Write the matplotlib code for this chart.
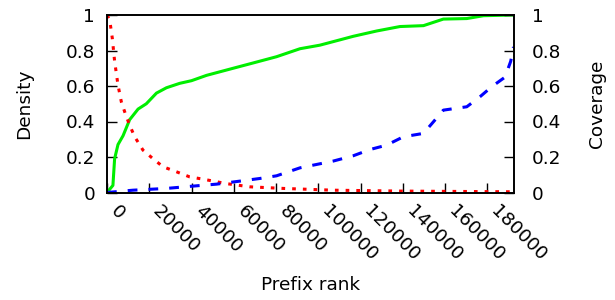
import matplotlib
matplotlib.use("Agg")
import matplotlib.pyplot as plt

# green solid curve (coverage, cumulative)
green_x = [0, 2800, 3600, 5200, 7600, 10700, 14700, 18600, 23400, 28100, 34400, 40000,
           47100, 59700, 69200, 80200, 91300, 100700, 110200, 116500, 127600, 138600,
           149700, 159100, 170200, 178100, 192300]
green_y = [0.0, 0.04, 0.19, 0.27, 0.32, 0.41, 0.47, 0.50, 0.56, 0.59, 0.615, 0.63,
           0.66, 0.70, 0.73, 0.765, 0.81, 0.83, 0.86, 0.88, 0.91, 0.935,
           0.94, 0.977, 0.98, 0.996, 1.0]

# red dotted curve (density)
red_x = [0, 1300, 2500, 3600, 5200, 6800, 8900, 10700, 13100, 17000, 21800, 26500,
         32800, 39100, 45500, 56500, 67600, 83300, 107000, 138600, 192300]
red_y = [1.0, 0.97, 0.87, 0.74, 0.605, 0.51, 0.436, 0.38, 0.314, 0.239, 0.19, 0.145,
         0.117, 0.088, 0.075, 0.05, 0.032, 0.023, 0.013, 0.008, 0.004]

# blue dashed curve
blue_x = [0, 12300, 28100, 40700, 51800, 62800, 72300, 80200, 91300, 107000, 116500,
          124400, 132300, 140200, 149700, 154400, 159100, 170200, 176500, 182000,
          188300, 191000, 192300]
blue_y = [0.0, 0.013, 0.023, 0.036, 0.047, 0.064, 0.079, 0.094, 0.139, 0.177, 0.207,
          0.242, 0.267, 0.314, 0.333, 0.398, 0.464, 0.483, 0.54, 0.596,
          0.65, 0.74, 0.82]

x_ticks = list(range(0, 180001, 20000))
y_ticks = [0, 0.2, 0.4, 0.6, 0.8, 1]
y_labels = ["0", "0.2", "0.4", "0.6", "0.8", "1"]

FS = 13.3

fig = plt.figure(figsize=(6.15, 3.0), dpi=100)
ax = fig.add_axes([107 / 615, 1 - 192.5 / 300, (513.5 - 107) / 615, (192.5 - 15) / 300])

ax.plot(green_x, green_y, color="#00ee00", lw=2.2)
ax.plot(red_x, red_y, color="#ff0000", lw=2.2, linestyle=(0, (1.2, 2.3)))
ax.plot(blue_x, blue_y, color="#0000ff", lw=2.2, linestyle=(0, (3.2, 3.6)))

ax.set_xlim(0, 192300)
ax.set_ylim(0, 1)
ax.set_xticks(x_ticks)
ax.set_xticklabels([str(t) for t in x_ticks], rotation=-45, ha="left", va="bottom",
                   rotation_mode="anchor", fontsize=FS)
ax.set_yticks(y_ticks)
ax.set_yticklabels(y_labels, fontsize=FS)
ax.tick_params(axis="y", direction="in", length=7, width=1, right=False, pad=8.6)
ax.tick_params(axis="x", direction="in", length=7, width=1, top=False, pad=16)
ax.set_xlabel("Prefix rank", fontsize=FS)
ax.xaxis.set_label_coords(0.5, -0.47)
ax.set_ylabel("Density", fontsize=FS)
ax.yaxis.set_label_coords(-0.182, 0.5)

ax2 = ax.twinx()
ax2.set_ylim(0, 1)
ax2.set_yticks(y_ticks)
ax2.set_yticklabels(y_labels, fontsize=FS)
ax2.tick_params(direction="in", length=7, width=1, pad=13)
ax2.set_ylabel("Coverage", fontsize=FS)
ax2.yaxis.set_label_coords(1.183, 0.5)

for a in (ax, ax2):
    for s in a.spines.values():
        s.set_linewidth(1.2)

fig.savefig("out.png", dpi=100)
